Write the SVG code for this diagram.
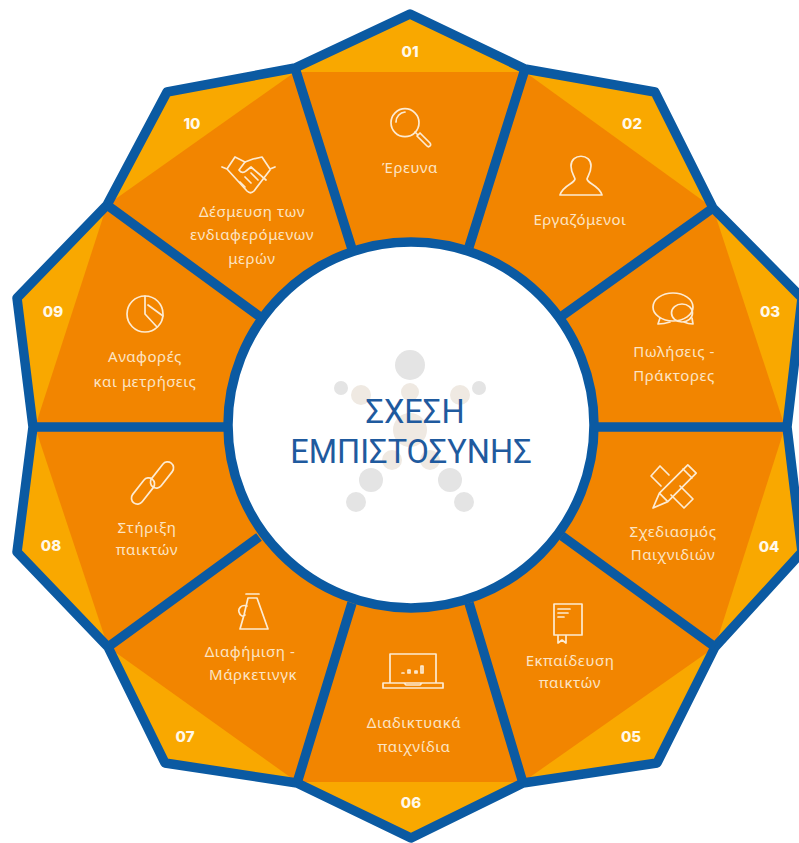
<svg xmlns="http://www.w3.org/2000/svg" width="799" height="843" viewBox="0 0 799 843">
<style>
.y{fill:#F9A800}
.o{fill:#F28500}
.e{fill:none;stroke:#0B5AA2;stroke-width:9.500;stroke-linejoin:round;stroke-linecap:butt}
.t{font-family:"Noto Sans","Open Sans",sans-serif;font-size:15px;letter-spacing:.55px;fill:#FCE4C4;text-anchor:middle}
.n{font-family:"Inter","Open Sans",sans-serif;font-weight:800;font-size:15px;fill:#FFF8EA;text-anchor:middle}
.i{fill:none;stroke:#FDEBD2;stroke-width:1.7;stroke-linejoin:round;stroke-linecap:round}
.h{font-family:"Roboto","Noto Sans",sans-serif;font-size:32.500px;fill:#1F5A9E;text-anchor:middle}
.d{fill:#E4E4E4}
.b{fill:#EFE9E2}
</style>
<rect width="799" height="843" fill="#fff"/>
<g id="background">
<polygon class="y" points="410,14 525,69 655,92 713,208 802,298 787,427 802,552 715,647 657,763 523,783 411,838 297,783 165,763 108,647 17,552 33,427 17,298 107,205 167,92 295,68"/>
<polygon class="o" points="295,72 525,72 713,208 785,427 715,647 523,782 297,782 108,647 35,427 107,205"/>
<circle cx="411" cy="425" r="183" fill="#fff"/>
</g>
<g id="center">
<circle class="d" cx="410" cy="365" r="15"/>
<circle class="d" cx="341" cy="388" r="7"/>
<circle class="d" cx="479" cy="388" r="7"/>
<circle class="b" cx="361" cy="395" r="10"/>
<circle class="b" cx="410" cy="392" r="9"/>
<circle class="b" cx="460" cy="395" r="10"/>
<circle class="b" cx="410" cy="430" r="17"/>
<circle class="b" cx="392" cy="460" r="10"/>
<circle class="b" cx="430" cy="460" r="10"/>
<circle class="d" cx="371" cy="480" r="12"/>
<circle class="d" cx="450" cy="480" r="12"/>
<circle class="d" cx="356" cy="502" r="10"/>
<circle class="d" cx="464" cy="502" r="10"/>
<text class="h" x="415" y="423">ΣΧΕΣΗ</text>
<text class="h" x="411" y="463">ΕΜΠΙΣΤΟΣΥΝΗΣ</text>
</g>
<g id="connectors">
<polygon class="e" points="410,14 525,69 655,92 713,208 802,298 787,427 802,552 715,647 657,763 523,783 411,838 297,783 165,763 108,647 17,552 33,427 17,298 107,205 167,92 295,68"/>
<circle class="e" cx="411" cy="425" r="183"/>
<path class="e" d="M525,69L469,247M713,208L562,316M787,427H594M715,647L562,536M523,783L469,603M297,783L352,603M108,647L259,537M33,427H228M107,205L259,316M295,68L352,249"/>
</g>
<g id="node-01">
<text class="n" x="410" y="57">01</text>
<circle class="i" cx="405" cy="122.700" r="14"/>
<path class="i" d="M396,122a10,10 0 0 1 9,-10M415,132l2,2M417,136l3,-3 10,10a2,2 0 0 1 -3,3z"/>
<text class="t" x="410" y="173">Έρευνα</text>
</g>
<g id="node-02">
<text class="n" x="632" y="129">02</text>
<path class="i" d="M571,166c0,-13 20,-13 20,0c0,6 -3,10 -4,13c1,5 12,6 15,16h-42c3,-10 14,-11 15,-16c-1,-3 -4,-7 -4,-13z"/>
<text class="t" x="580" y="225">Εργαζόμενοι</text>
</g>
<g id="node-03">
<text class="n" x="770" y="317">03</text>
<ellipse class="i" cx="673" cy="307" rx="20" ry="14"/>
<ellipse class="i" cx="682" cy="313" rx="10.500" ry="9"/>
<path class="i" d="M660,318l-2,6c5,0 9,-1 12,-2M692,318l1,6c-4,0 -7,-1 -9,-2"/>
<text class="t" x="674" y="357">Πωλήσεις -</text>
<text class="t" x="674" y="381">Πράκτορες</text>
</g>
<g id="node-04">
<text class="n" x="769" y="552">04</text>
<path class="i" d="M669,475l-9,-9 -9,10 10,10M680,486l13,13 -9,9 -13,-13"/>
<path class="i" d="M653,508l6.400,-14.800 28.400,-28.400 8.400,8.400 -28.400,28.400zM683,469l9,9M659.400,493.200l8.400,8.400"/>
<text class="t" x="673" y="537">Σχεδιασμός</text>
<text class="t" x="673" y="560">Παιχνιδιών</text>
</g>
<g id="node-05">
<text class="n" x="631" y="742">05</text>
<path class="i" d="M554,604h28v31h-28zM558,635v8l4,-3 4,3v-8M558,609h12M558,613h10M558,617h6"/>
<text class="t" x="570" y="666">Εκπαίδευση</text>
<text class="t" x="570" y="688">παικτών</text>
</g>
<g id="node-06">
<text class="n" x="411" y="808">06</text>
<path class="i" d="M390,683v-29h46v29M383,683h60v5h-60zM404,683l2,2h14l2,-2"/>
<path class="i" d="M402,673h2M408,673v-3h2v3zM415,673v-2h2v2zM421,673v-7h2v7z"/>
<text class="t" x="414" y="728">Διαδικτυακά</text>
<text class="t" x="414" y="752">παιχνίδια</text>
</g>
<g id="node-07">
<text class="n" x="185" y="742">07</text>
<path class="i" d="M246,594h13M248,598h9l11,31h-28l4,-14zM247,606c-6,-2 -9,3 -8,6 1,4 4,5 6,3"/>
<text class="t" x="250" y="657">Διαφήμιση -</text>
<text class="t" x="253" y="680">Μάρκετινγκ</text>
</g>
<g id="node-08">
<text class="n" x="51" y="551">08</text>
<rect class="i" x="-15" y="-6" width="30" height="12" rx="6" transform="translate(143,491) rotate(-52)"/>
<rect class="i" x="-15" y="-6" width="30" height="12" rx="6" transform="translate(162,475) rotate(-52)"/>
<text class="t" x="147" y="533">Στήριξη</text>
<text class="t" x="147" y="555">παικτών</text>
</g>
<g id="node-09">
<text class="n" x="53" y="317">09</text>
<circle class="i" cx="145" cy="314" r="18"/>
<path class="i" d="M145,296v18l12,13M148,305l15,11"/>
<text class="t" x="145" y="362">Αναφορές</text>
<text class="t" x="145" y="387">και μετρήσεις</text>
</g>
<g id="node-10">
<text class="n" x="192" y="129">10</text>
<path class="i" d="M222,167l5,2 8,-12 10,5 8,-3 9,-2 8,12 5,-2M227,169l20,22c3,3 5,2 7,0l16,-21"/>
<path class="i" d="M245,162l-6,8c2,3 5,3 7,1l5,-4 15,13M240,182l5,5M245,177l6,6M251,173l7,7"/>
<text class="t" x="252" y="217">Δέσμευση των</text>
<text class="t" x="252" y="240">ενδιαφερόμενων</text>
<text class="t" x="252" y="264">μερών</text>
</g>
</svg>
